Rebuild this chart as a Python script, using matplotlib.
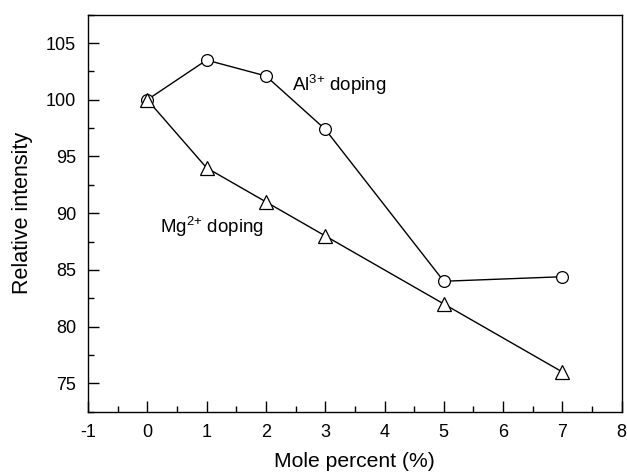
import matplotlib
matplotlib.use("Agg")
import matplotlib.pyplot as plt
from matplotlib.ticker import MultipleLocator

plt.rcParams['font.family'] = ['Liberation Sans', 'DejaVu Sans']
plt.rcParams['axes.unicode_minus'] = False
plt.rcParams['mathtext.fontset'] = 'custom'
plt.rcParams['mathtext.rm'] = 'Liberation Sans'
plt.rcParams['mathtext.it'] = 'Liberation Sans'
plt.rcParams['mathtext.bf'] = 'Liberation Sans'

mole_percent = [0, 1, 2, 3, 5, 7]
al_intensity = [100, 103.5, 102.1, 97.4, 84.0, 84.4]
mg_intensity = [100, 94, 91, 88, 82, 76]

fig = plt.figure(figsize=(6.27, 4.72), dpi=100)
ax = fig.add_axes([88/627, 1 - 411.7/472, (621.7-88)/627, (411.7-14.7)/472])

ax.plot(mole_percent, al_intensity, color='black', lw=1.0, marker='o', ms=8.5,
        mfc='white', mec='black', mew=0.9)
ax.plot(mole_percent, mg_intensity, color='black', lw=1.0, marker='^', ms=9.5,
        mfc='white', mec='black', mew=0.9)

ax.set_xlim(-1, 8)
ax.set_ylim(72.5, 107.5)
ax.xaxis.set_major_locator(MultipleLocator(1))
ax.xaxis.set_minor_locator(MultipleLocator(0.5))
ax.yaxis.set_major_locator(MultipleLocator(5))
ax.yaxis.set_minor_locator(MultipleLocator(2.5))
ax.tick_params(which='both', direction='in', top=False, right=False, labelsize=13)
ax.tick_params(which='major', length=8, width=1)
ax.tick_params(axis='x', which='major', pad=9)
ax.tick_params(axis='y', which='major', pad=8.5)
ax.tick_params(which='minor', length=4, width=1)
for s in ax.spines.values():
    s.set_linewidth(1.0)

ax.text(2.435, 100.79, r'Al$^{\mathregular{3{+}}}$ doping', fontsize=13.5, va='baseline', ha='left')
ax.text(0.214, 88.22, r'Mg$^{\mathregular{2{+}}}$ doping', fontsize=13.5, va='baseline', ha='left')

ax.set_xlabel('Mole percent (%)', fontsize=15.2, labelpad=8)
ax.set_ylabel('Relative intensity', fontsize=15.5, labelpad=9)

fig.savefig('out.png', dpi=100)
